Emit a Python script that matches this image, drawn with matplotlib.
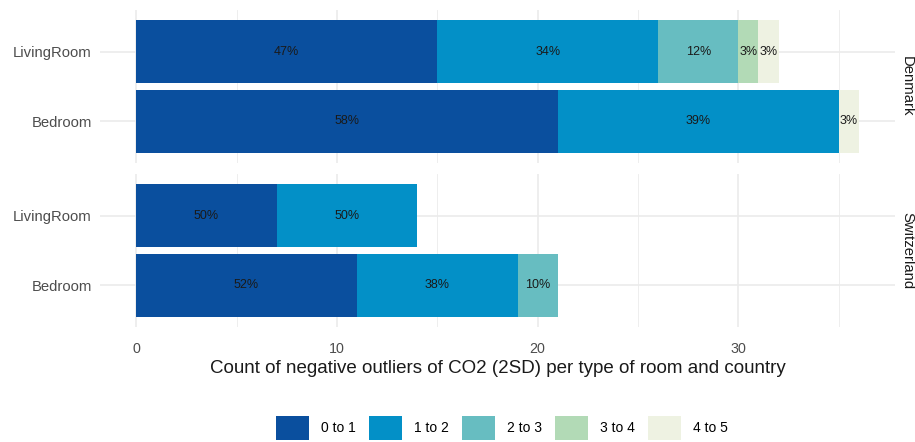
import matplotlib
matplotlib.use("Agg")
import matplotlib.pyplot as plt
from matplotlib.patches import Patch
import numpy as np

plt.rcParams['font.family'] = ['Liberation Sans', 'DejaVu Sans']

countries = ["Denmark", "Switzerland"]
rooms = ["LivingRoom", "Bedroom"]
bins = ["0 to 1", "1 to 2", "2 to 3", "3 to 4", "4 to 5"]
colors = ["#0a4f9e", "#0390c7", "#67bdc1", "#b2dab6", "#eef2e2"]

# counts per bin
denmark_living = [15, 11, 4, 1, 1]
denmark_bed = [21, 14, 0, 0, 1]
swiss_living = [7, 7, 0, 0, 0]
swiss_bed = [11, 8, 2, 0, 0]
data = {
    "Denmark": {"LivingRoom": denmark_living, "Bedroom": denmark_bed},
    "Switzerland": {"LivingRoom": swiss_living, "Bedroom": swiss_bed},
}
xticks = [0, 10, 20, 30]
xlabel = "Count of negative outliers of CO2 (2SD) per type of room and country"

W, H = 915, 442
fig = plt.figure(figsize=(W / 100, H / 100), dpi=100)

left, right = 100, 895
panels = [(10, 163), (174, 327)]
xmax_all = 36
grid_c = "#ebebeb"

axes = []
for (top, bot), country in zip(panels, countries):
    ax = fig.add_axes([left / W, 1 - bot / H, (right - left) / W, (bot - top) / H])
    axes.append(ax)
    ax.set_xlim(-0.05 * xmax_all, xmax_all * 1.05)
    ax.set_ylim(1.6, -0.6)
    for s in ax.spines.values():
        s.set_visible(False)
    ax.set_axisbelow(True)
    for xv in [5, 15, 25, 35]:
        ax.axvline(xv, color=grid_c, lw=0.6, zorder=0)
    for xv in xticks:
        ax.axvline(xv, color=grid_c, lw=1.2, zorder=0)
    for yi in range(len(rooms)):
        ax.axhline(yi, color=grid_c, lw=1.2, zorder=0)
    ax.tick_params(length=0, labelsize=10.7, labelcolor="#4d4d4d")
    ax.tick_params(axis="x", pad=11, labelsize=10.3)
    ax.tick_params(axis="y", pad=6)
    ax.set_yticks(range(len(rooms)))
    ax.set_yticklabels(rooms)
    ax.set_xticks(xticks)
    if country == countries[-1]:
        ax.set_xticklabels([str(x) for x in xticks])
    else:
        ax.set_xticklabels([])
    for yi, room in enumerate(rooms):
        vals = data[country][room]
        total = sum(vals)
        start = 0
        for bi, v in enumerate(vals):
            if v == 0:
                continue
            ax.barh(yi, v, left=start, height=0.9, color=colors[bi], zorder=2)
            pct = round(v / total * 100)
            ax.text(start + v / 2, yi, f"{pct}%", ha="center", va="center",
                    fontsize=9, color="#1a1a1a", zorder=3)
            start += v
    ax.text(1.0 + 12 / (right - left), 0.5, country, transform=ax.transAxes,
            rotation=-90, ha="center", va="center", fontsize=10.7, color="#1a1a1a")

axes[-1].set_xlabel(xlabel, fontsize=13.5, color="#1a1a1a", labelpad=3)

handles = [Patch(facecolor=c, edgecolor="none") for c in colors]
fig.legend(handles, bins, loc="center", bbox_to_anchor=(502 / W, 1 - 428 / H), ncol=5,
           frameon=False, fontsize=10, handlelength=2.37, handleheight=2.3,
           handletextpad=0.86, columnspacing=0.95, borderpad=0, borderaxespad=0)

fig.savefig("out.png", dpi=100)
